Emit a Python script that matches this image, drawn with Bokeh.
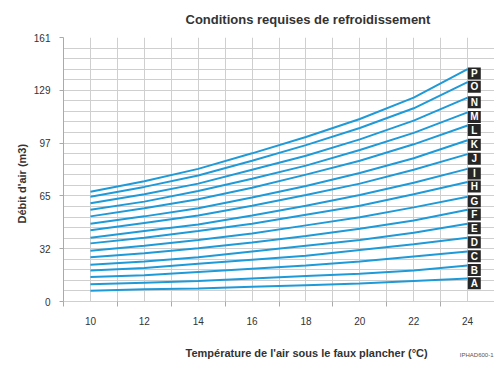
from bokeh.plotting import figure
from bokeh.models import FixedTicker, Title, Label
from bokeh.embed import file_html
from bokeh.resources import INLINE
from bokeh.core.properties import value

# ---- data -------------------------------------------------------------
temps = [10, 12, 14, 16, 18, 20, 22, 24]
letters = ["A", "B", "C", "D", "E", "F", "G", "H",
           "I", "J", "K", "L", "M", "N", "O", "P"]

A = [6.5, 7.5, 8, 9, 10, 11, 12.5, 14]
B = [10.5, 11.5, 12.5, 14, 15.5, 17, 19, 22]
C = [15, 16, 18, 20, 22, 24.5, 27.5, 30.5]
D = [19, 20.5, 23, 25.5, 28, 31.5, 35, 39]
E = [22.5, 24.5, 27, 30.5, 34, 37.5, 42, 47.5]
F = [27, 29.5, 32.5, 36, 40, 44.5, 49.5, 56]
G = [31, 34, 37.5, 41.5, 46.5, 51.5, 57.5, 64]
H = [35.5, 39, 43, 47.5, 53, 58.5, 65.5, 73]
I = [39, 43, 47, 52.5, 58.5, 65, 72.5, 81]
J = [43.5, 48, 52.5, 58.5, 65, 72, 80.5, 90]
K = [47.5, 52, 57, 63.5, 70.5, 78.5, 87.5, 98.5]
L = [52, 57, 62.5, 69.5, 77.5, 86, 96, 107.5]
M = [56, 61, 67.5, 75, 83, 92.5, 103, 115.5]
N = [60, 65.5, 72, 80.5, 89, 99, 110.5, 124.5]
O = [64, 70, 77, 86, 95.5, 106, 118, 134]
P = [67, 73.5, 81, 90.5, 100.5, 111.5, 124.5, 142]
series = [A, B, C, D, E, F, G, H, I, J, K, L, M, N, O, P]

x_tick_values = [10, 12, 14, 16, 18, 20, 22, 24]
y_tick_values = [0, 32.25, 64.5, 96.75, 129, 161.25]
y_tick_labels = ["0", "32", "65", "97", "129", "161"]

title_text = "Conditions requises de refroidissement"
x_title = "Température de l'air sous le faux plancher (°C)"
y_title = "Débit d'air (m3)"
ref_text = "IPHAD600-1"

# ---- styling ------------------------------------------------------------
FONT = "Liberation Sans"
BLUE = "#1f9ad8"
GRID = "#cfcfcf"
TXT = "#333333"

p = figure(width=494, height=369,
           x_range=(9, 25), y_range=(0, 161.25),
           output_backend="svg", toolbar_location=None,
           min_border_left=63, min_border_right=0,
           min_border_top=37, min_border_bottom=68)
p.outline_line_color = None
p.background_fill_color = "white"
p.border_fill_color = "white"

# main title
p.title.text = title_text
p.title.align = "left"
p.title.vertical_align = "top"
p.title.offset = 122
p.title.text_font = FONT
p.title.text_font_style = "bold"
p.title.text_font_size = "13px"
p.title.text_color = TXT
p.title.standoff = 17

# grids
p.xgrid.ticker = FixedTicker(ticks=list(range(9, 26)))
p.ygrid.ticker = FixedTicker(ticks=[i * 6.45 for i in range(26)])
p.xgrid.grid_line_color = GRID
p.ygrid.grid_line_color = GRID

# x axis
p.xaxis.ticker = FixedTicker(ticks=x_tick_values,
                             minor_ticks=[t - 1 for t in x_tick_values])
p.xaxis.major_tick_out = 0
p.xaxis.major_tick_in = 0
p.xaxis.minor_tick_out = 5
p.xaxis.minor_tick_in = 0
p.xaxis.minor_tick_line_color = "#aaaaaa"
p.xaxis.axis_line_color = GRID
p.xaxis.major_label_standoff = 10
p.xaxis.major_label_text_font = FONT
p.xaxis.major_label_text_font_size = "10px"
p.xaxis.major_label_text_color = TXT

# y axis
p.yaxis.ticker = FixedTicker(ticks=y_tick_values, minor_ticks=[])
p.yaxis.major_label_overrides = dict(zip(y_tick_values, y_tick_labels))
p.yaxis.major_tick_out = 4
p.yaxis.major_tick_in = 0
p.yaxis.major_tick_line_color = "#aaaaaa"
p.yaxis.axis_line_color = "#aaaaaa"
p.yaxis.major_label_standoff = 9
p.yaxis.major_label_text_font = FONT
p.yaxis.major_label_text_font_size = "10px"
p.yaxis.major_label_text_color = TXT

# bottom texts: small reference code (right) and axis title
p.add_layout(Label(x=430, y=-21, x_units="screen", y_units="screen",
                   text=ref_text, text_align="right", text_baseline="middle",
                   text_font=FONT, text_font_size="6px",
                   text_color="#555555"), "below")
p.add_layout(Title(text=x_title, align="left", offset=122,
                   text_font=FONT, text_font_style="bold",
                   text_font_size="11px", text_color=TXT,
                   standoff=22), "below")
p.add_layout(Title(text=y_title, align="left", offset=78,
                   text_font=FONT, text_font_style="bold",
                   text_font_size="11px", text_color=TXT,
                   standoff=6), "left")

# lines
for vals in series:
    p.line(temps, vals, line_color=BLUE, line_width=2)

# letter boxes at the end of each line
box_x = [temps[-1] + 0.25 for _ in series]
box_y = [vals[-1] - 2.8 for vals in series]
p.rect(x=box_x, y=box_y, width=13, height=12,
       width_units="screen", height_units="screen",
       fill_color="#262626", line_color=None)
p.text(x=box_x, y=box_y, text=letters,
       text_font=value(FONT), text_font_style="bold",
       text_font_size="10px", text_color="white",
       text_align="center", text_baseline="middle")

open("out.html", "w").write(file_html(p, INLINE))
